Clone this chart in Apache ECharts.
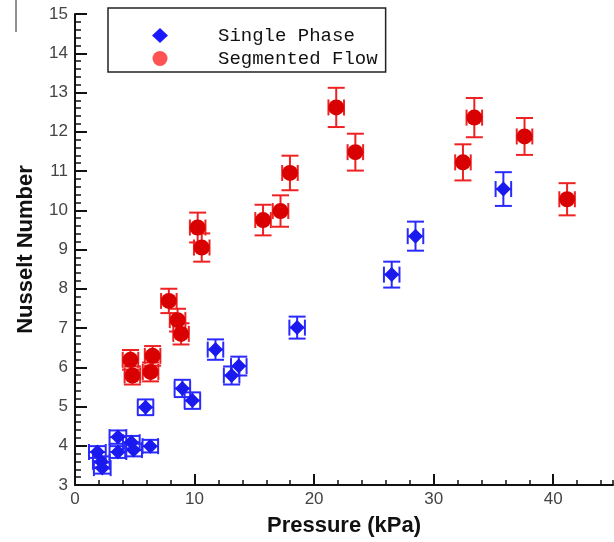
<!DOCTYPE html>
<html>
<head>
<meta charset="utf-8">
<script src="https://cdn.jsdelivr.net/npm/echarts@6/dist/echarts.min.js"></script>
<style>
  html, body { margin: 0; padding: 0; background: #fff; }
  #chart { width: 614px; height: 542px; }
</style>
</head>
<body>
<div id="chart"></div>
<script>
// Single phase points (pressure kPa, Nusselt number, errors)
const singleX = [35.83, 28.48, 26.49, 18.58, 11.75, 13.7, 13.1, 8.98, 9.82, 5.9, 6.3, 3.59, 3.59, 4.71, 4.9, 1.87, 2.2, 2.28]
const singleY = [10.54, 9.34, 8.36, 7.01, 6.45, 6.03, 5.79, 5.46, 5.15, 4.98, 3.99, 4.22, 3.84, 4.09, 3.89, 3.84, 3.59, 3.43]
const singleXErr = [0.65, 0.65, 0.65, 0.65, 0.65, 0.65, 0.65, 0.65, 0.65, 0.65, 0.65, 0.7, 0.7, 0.7, 0.7, 0.7, 0.7, 0.7]
const singleYErr = [0.43, 0.37, 0.33, 0.28, 0.26, 0.24, 0.23, 0.22, 0.21, 0.2, 0.16, 0.17, 0.15, 0.16, 0.16, 0.15, 0.14, 0.14]

// Segmented flow points
const segX = [21.85, 23.45, 33.4, 32.45, 37.6, 41.16, 17.98, 17.19, 15.73, 10.26, 10.6, 7.85, 8.58, 8.87, 4.64, 4.8, 6.49, 6.32]
const segY = [12.62, 11.48, 12.36, 11.22, 11.88, 10.28, 10.95, 9.98, 9.75, 9.56, 9.05, 7.69, 7.2, 6.85, 6.19, 5.79, 6.29, 5.88]
const segXErr = [0.65, 0.65, 0.65, 0.65, 0.65, 0.65, 0.65, 0.65, 0.65, 0.65, 0.65, 0.65, 0.65, 0.65, 0.65, 0.65, 0.65, 0.65]
const segYErr = [0.5, 0.47, 0.5, 0.46, 0.47, 0.41, 0.44, 0.4, 0.39, 0.38, 0.36, 0.31, 0.29, 0.27, 0.25, 0.23, 0.25, 0.24]

const xTickLabels = ['0', '10', '20', '30', '40']
const yTickLabels = ['3', '4', '5', '6', '7', '8', '9', '10', '11', '12', '13', '14', '15']

const chart = echarts.init(document.getElementById('chart'))

const zip = (xs, ys, ex, ey) => xs.map((x, i) => [x, ys[i], ex[i], ey[i]])

const errorBars = (color) => (params, api) => {
  const x = api.value(0)
  const y = api.value(1)
  const ex = api.value(2)
  const ey = api.value(3)
  const top = api.coord([x, y + ey])
  const bot = api.coord([x, y - ey])
  const lft = api.coord([x - ex, y])
  const rgt = api.coord([x + ex, y])
  const cap = 8.5
  const capH = 8
  const style = { stroke: color, lineWidth: 2, fill: null }
  const line = (x1, y1, x2, y2) => ({ type: 'line', shape: { x1, y1, x2, y2 }, style })
  return {
    type: 'group',
    children: [
      line(top[0], top[1], bot[0], bot[1]),
      line(top[0] - cap, top[1], top[0] + cap, top[1]),
      line(bot[0] - cap, bot[1], bot[0] + cap, bot[1]),
      line(lft[0], lft[1], rgt[0], rgt[1]),
      line(lft[0], lft[1] - capH, lft[0], lft[1] + capH),
      line(rgt[0], rgt[1] - capH, rgt[0], rgt[1] + capH)
    ]
  }
}

const option = {
  animation: false,
  backgroundColor: '#fff',
  grid: { left: 75, right: 1, top: 14, bottom: 46 },
  legend: {
    orient: 'vertical',
    left: 108,
    top: 8,
    padding: [18, 8, 4, 44],
    itemGap: 4,
    itemWidth: 16,
    itemHeight: 15,
    borderColor: '#222',
    borderWidth: 1.5,
    textStyle: { fontFamily: 'Liberation Mono', fontSize: 19, color: '#111', padding: [0, 0, 0, 45] },
    data: [
      { name: 'Single Phase', icon: 'diamond', itemStyle: { color: '#1a1aff' } },
      { name: 'Segmented Flow', icon: 'circle', itemStyle: { color: '#ff5252' } }
    ]
  },
  xAxis: [
    {
      type: 'value',
      min: 0,
      max: 45,
      interval: 10,
      position: 'bottom',
      name: 'Pressure (kPa)',
      nameLocation: 'middle',
      nameGap: 30,
      nameTextStyle: { fontFamily: 'Liberation Sans', fontWeight: 'bold', fontSize: 22, color: '#111' },
      axisLine: { lineStyle: { color: '#111', width: 2 } },
      axisTick: { inside: true, length: 11, lineStyle: { color: '#111', width: 2 } },
      axisLabel: {
        showMaxLabel: false,
        margin: 6,
        fontFamily: 'Liberation Sans',
        fontSize: 17,
        color: '#444',
        formatter: (v) => xTickLabels[v / 10] || ''
      },
      splitLine: { show: false }
    },
    {
      type: 'value',
      min: 0,
      max: 45,
      interval: 2,
      position: 'bottom',
      axisLine: { show: false },
      axisTick: { inside: true, length: 5, lineStyle: { color: '#111', width: 1.5 } },
      axisLabel: { show: false },
      splitLine: { show: false }
    }
  ],
  yAxis: {
    type: 'value',
    min: 3,
    max: 15,
    interval: 1,
    name: 'Nusselt Number',
    nameLocation: 'middle',
    nameGap: 38,
    nameTextStyle: { fontFamily: 'Liberation Sans', fontWeight: 'bold', fontSize: 22, color: '#111' },
    axisLine: { show: true, lineStyle: { color: '#111', width: 2 } },
    axisTick: { inside: true, length: 12, lineStyle: { color: '#111', width: 2 } },
    minorTick: { show: true, splitNumber: 5, length: 6, lineStyle: { color: '#111', width: 1.5 } },
    axisLabel: {
      margin: 7,
      fontFamily: 'Liberation Sans',
      fontSize: 17,
      color: '#444',
      formatter: (v) => yTickLabels[v - 3]
    },
    splitLine: { show: false },
    minorSplitLine: { show: false }
  },
  graphic: [
    { type: 'line', shape: { x1: 16, y1: 0, x2: 16, y2: 32 }, style: { stroke: '#222', lineWidth: 1 } }
  ],
  series: [
    {
      name: 'Single Phase err',
      type: 'custom',
      renderItem: errorBars('#2a2aff'),
      data: zip(singleX, singleY, singleXErr, singleYErr),
      z: 2
    },
    {
      name: 'Segmented Flow err',
      type: 'custom',
      renderItem: errorBars('#ee2222'),
      data: zip(segX, segY, segXErr, segYErr),
      z: 2
    },
    {
      name: 'Single Phase',
      type: 'scatter',
      symbol: 'diamond',
      symbolSize: [15, 15],
      itemStyle: { color: '#1a1aee', opacity: 1 },
      data: singleX.map((x, i) => [x, singleY[i]]),
      z: 3
    },
    {
      name: 'Segmented Flow',
      type: 'scatter',
      symbol: 'circle',
      symbolSize: 16,
      itemStyle: { color: '#d80000', opacity: 1 },
      data: segX.map((x, i) => [x, segY[i]]),
      z: 3
    }
  ]
}

chart.setOption(option)
</script>
</body>
</html>
